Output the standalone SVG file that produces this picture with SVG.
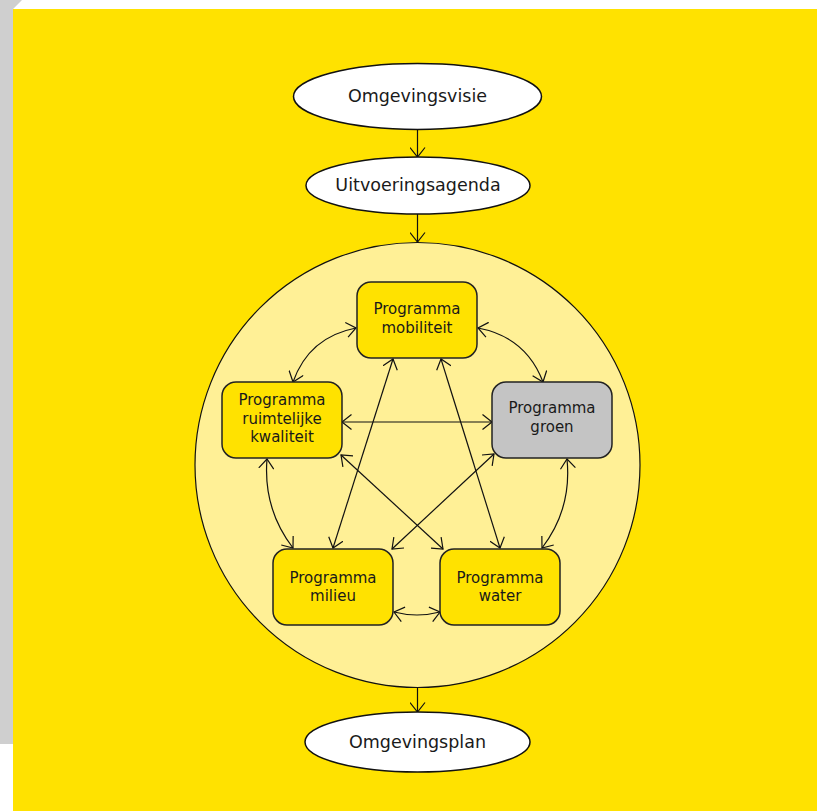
<svg xmlns="http://www.w3.org/2000/svg" width="817" height="811" viewBox="0 0 817 811">
<defs>
<style>
.ell{fill:#fff;stroke:#111;stroke-width:1.5}
.box{fill:#FFE200;stroke:#222;stroke-width:1.5}
.grey{fill:#C4C4C4}
.t{font-family:"DejaVu Sans",Verdana,sans-serif;fill:#1a1a1a;text-anchor:middle}
.big{font-size:17.5px}
.sm{font-size:15px}
.c{fill:none;stroke:#111;stroke-width:1.2;marker-end:url(#ah)}
.d{fill:none;stroke:#111;stroke-width:1.2;marker-start:url(#ah);marker-end:url(#ah)}
</style>
<marker id="ah" viewBox="0 0 11 16" refX="10" refY="8" markerWidth="11" markerHeight="16" markerUnits="userSpaceOnUse" orient="auto-start-reverse">
<path d="M0.5,0.5 L10,8 L0.5,15.5" fill="none" stroke="#111" stroke-width="1.2"/>
</marker>
</defs>
<rect x="0" y="0" width="817" height="811" fill="#fff"/>
<polygon points="0,0 22,0 13,9 13,744 0,744" fill="#CFCFCF"/>
<rect x="13" y="9" width="804" height="802" fill="#FFE200"/>
<circle id="circle" cx="417.5" cy="465" r="222.5" fill="#FFF096" stroke="#111" stroke-width="1.2"/>
<g id="connectors">
<path class="c" d="M417.5,130 L417.5,157"/>
<path class="c" d="M417.5,214 L417.5,242"/>
<path class="c" d="M417.5,688 L417.5,712"/>
<path class="d" d="M356,328 Q309,337 293,382"/>
<path class="d" d="M478,328 Q526,337 543,382"/>
<path class="d" d="M342,422 L492,422"/>
<path class="d" d="M393,359 L333,548"/>
<path class="d" d="M441,359 L500,548"/>
<path class="d" d="M341,455 L443,549"/>
<path class="d" d="M494,454 L392,549"/>
<path class="d" d="M267,459 Q263,509 293,548"/>
<path class="d" d="M567,459 Q572,509 542,548"/>
<path class="d" d="M394,612 Q417,618 440,612"/>
</g>
<g id="omgevingsvisie">
<ellipse class="ell" cx="417.5" cy="96.5" rx="124" ry="33"/>
<text class="t big" x="417.5" y="102">Omgevingsvisie</text>
</g>
<g id="uitvoeringsagenda">
<ellipse class="ell" cx="418" cy="185.5" rx="112" ry="28.5"/>
<text class="t big" x="418" y="191">Uitvoeringsagenda</text>
</g>
<g id="omgevingsplan">
<ellipse class="ell" cx="417.5" cy="742" rx="112.5" ry="30"/>
<text class="t big" x="417.5" y="748">Omgevingsplan</text>
</g>
<g id="mobiliteit">
<rect class="box" x="357" y="282" width="120" height="76" rx="14"/>
<text class="t sm" x="417" y="314">Programma</text>
<text class="t sm" x="417" y="333">mobiliteit</text>
</g>
<g id="ruimtelijke">
<rect class="box" x="222" y="382" width="120" height="76" rx="14"/>
<text class="t sm" x="282" y="405">Programma</text>
<text class="t sm" x="282" y="424">ruimtelijke</text>
<text class="t sm" x="282" y="442">kwaliteit</text>
</g>
<g id="groen">
<rect class="box grey" x="492" y="382" width="120" height="76" rx="14"/>
<text class="t sm" x="552" y="413">Programma</text>
<text class="t sm" x="552" y="432">groen</text>
</g>
<g id="milieu">
<rect class="box" x="273" y="549" width="120" height="76" rx="14"/>
<text class="t sm" x="333" y="583">Programma</text>
<text class="t sm" x="333" y="601">milieu</text>
</g>
<g id="water">
<rect class="box" x="440" y="549" width="120" height="76" rx="14"/>
<text class="t sm" x="500" y="583">Programma</text>
<text class="t sm" x="500" y="601">water</text>
</g>
</svg>
